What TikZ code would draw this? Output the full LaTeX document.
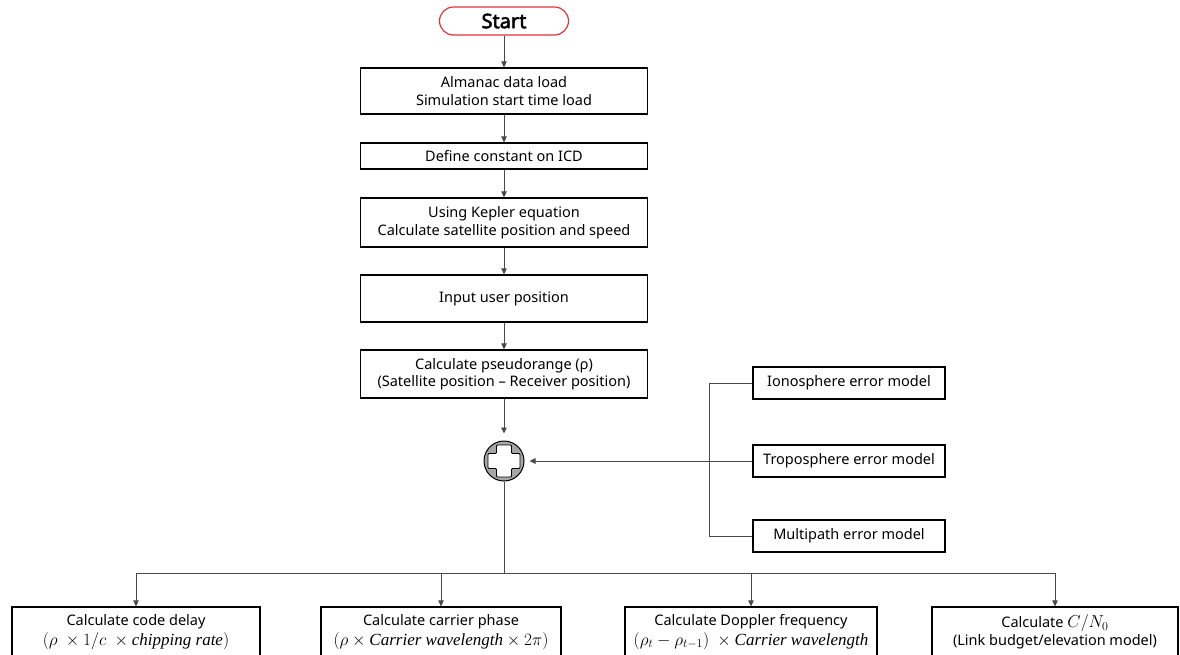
\documentclass[tikz,border=0pt]{standalone}
\usepackage{fontspec}
\setmainfont{Noto Sans}[AutoFakeBold=2.5]
\newfontfamily\mathword{Liberation Serif}
\usetikzlibrary{arrows.meta}

\definecolor{startred}{HTML}{E0323A}
\definecolor{linegray}{HTML}{4A4A4A}

% slowa w wzorach, kursywa szeryfowa
\newcommand{\mw}[1]{\mbox{\mathword\itshape #1}}
% wieksze wzory
\newcommand{\bigf}[1]{{\fontsize{17}{17.5}\selectfont #1}}

\tikzset{
  box/.style={draw=black, line width=1.2pt, fill=white, minimum width=287pt,
    minimum height=46pt, inner sep=2pt, align=center,
    font=\fontsize{14.5}{17.5}\selectfont},
  startbox/.style={draw=startred, line width=1.2pt, rounded corners=14pt,
    minimum width=129pt, minimum height=28pt, inner sep=0pt,
    font=\fontsize{20}{24}\selectfont\bfseries},
  errbox/.style={box, minimum width=192pt, minimum height=32pt},
  calcbox/.style={box, minimum height=50pt},
  sumnode/.style={circle, draw=black, line width=1pt, fill=black!35,
    minimum size=40pt, inner sep=0pt},
  line/.style={draw=linegray, line width=0.9pt},
  arr/.style={line, -{Triangle[length=6pt,width=5.5pt]}}
}

\begin{document}
\begin{tikzpicture}[x=1pt,y=-1pt]
\useasboundingbox (0,0) rectangle (1180,654);

% ---------- glowna kolumna ----------
\node[startbox] (start) at (504,21) {Start};
\node[box] (almanac) at (504,91) {Almanac data load\\Simulation start time load};
\node[box, minimum height=26pt] (icd) at (504,156) {Define constant on ICD};
\node[box, minimum height=49pt] (kepler) at (504,222.5) {Using Kepler equation\\Calculate satellite position and speed};
\node[box, minimum height=47pt] (user) at (504,298.5) {Input user position};
\node[box, minimum height=48pt] (pseudo) at (504,374) {Calculate pseudorange (ρ)\\(Satellite position -- Receiver position)};

% ---------- sumator ----------
\node[sumnode] (sum) at (504,461) {};
\draw[fill=white, line width=0.8pt, rounded corners=1pt]
  ([shift={(-7.5,-16)}]sum.center) -- ++(15,0) -- ++(0,8.5) -- ++(8.5,0)
  -- ++(0,15) -- ++(-8.5,0) -- ++(0,8.5) -- ++(-15,0) -- ++(0,-8.5)
  -- ++(-8.5,0) -- ++(0,-15) -- ++(8.5,0) -- cycle;

% ---------- modele bledow ----------
\node[errbox] (iono) at (849,383) {Ionosphere error model};
\node[errbox] (tropo) at (849,461) {Troposphere error model};
\node[errbox] (multi) at (849,536) {Multipath error model};

% ---------- obliczenia ----------
\node[calcbox, minimum width=248pt] (codedelay) at (136,632)
  {Calculate code delay\\[2pt]\bigf{$(\rho\ \times 1/c\ \times \mw{chipping rate})$}};
\node[calcbox, minimum width=240pt] (carrier) at (441,632)
  {Calculate carrier phase\\[2pt]\bigf{$(\rho \times \mw{Carrier wavelength} \times 2\pi)$}};
\node[calcbox, minimum width=252pt] (doppler) at (751,632)
  {Calculate Doppler frequency\\[2pt]\bigf{$(\rho_t - \rho_{t-1})\ \times \mw{Carrier wavelength}$}};
\node[calcbox, minimum width=246pt] (cnzero) at (1055,632)
  {Calculate \bigf{$C/N_0$}\\[1pt](Link budget/elevation model)};

\coordinate (bus) at (504,573);

% ---------- strzalki ----------
\draw[arr] (start) -- (almanac);
\draw[arr] (almanac) -- (icd);
\draw[arr] (icd) -- (kepler);
\draw[arr] (kepler) -- (user);
\draw[arr] (user) -- (pseudo);
\draw[arr, shorten >=7pt] (pseudo) -- (sum);

\draw[line] (iono.west) -- ++(-43,0) |- (multi.west);
\draw[arr, shorten >=5pt] (tropo.west) -- (sum.east);

\draw[line] (sum) -- (bus);
\draw[line] (bus -| codedelay.north) -- (bus -| cnzero.north);
\draw[arr] (bus -| codedelay.north) -- (codedelay.north);
\draw[arr] (bus -| carrier.north) -- (carrier.north);
\draw[arr] (bus -| doppler.north) -- (doppler.north);
\draw[arr] (bus -| cnzero.north) -- (cnzero.north);

\end{tikzpicture}
\end{document}
